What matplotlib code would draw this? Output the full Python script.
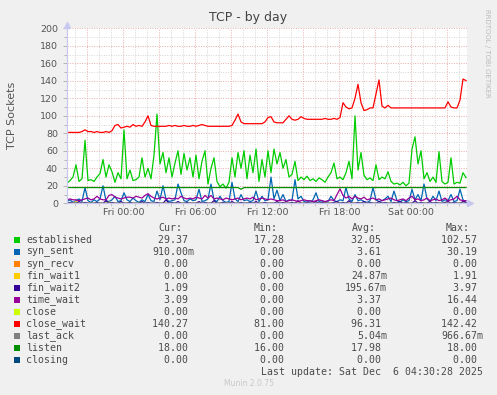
import numpy as np
import matplotlib
matplotlib.use("Agg")
import matplotlib.pyplot as plt
from matplotlib.patches import Rectangle
from matplotlib.ticker import MultipleLocator

W, H = 497, 395

# samples every 15 minutes, hours relative to Fri 00:00
hours = -4.69 + 0.25 * np.arange(134)

established = [
    23, 26, 30, 44, 25, 28, 72, 26, 27, 25,
    30, 34, 50, 30, 44, 36, 24, 35, 28, 84,
    28, 38, 26, 27, 30, 52, 30, 40, 28, 55,
    102, 45, 58, 35, 52, 30, 46, 60, 33, 57,
    38, 52, 30, 55, 28, 48, 60, 22, 40, 52,
    25, 19, 22, 17.3, 24, 52, 30, 58, 40, 60,
    28, 55, 35, 62, 25, 50, 30, 60, 35, 62,
    45, 58, 40, 50, 30, 33, 48, 26, 30, 27,
    31, 26, 28, 25, 29, 27, 24, 30, 35, 46,
    28, 30, 27, 35, 48, 28, 100, 38, 58, 32,
    27, 29, 26, 44, 27, 30, 28, 36, 25, 22,
    23, 21, 24, 20, 23, 62, 76, 45, 60, 28,
    35, 25, 30, 24, 59, 25, 22, 24, 52, 22,
    24, 23, 35, 29.37,
]

syn_sent = [
    2, 4, 1, 3, 5, 2, 18, 3, 1, 4,
    2, 5, 20, 3, 2, 4, 8, 2, 3, 12,
    4, 2, 6, 3, 1, 4, 2, 10, 3, 2,
    14, 4, 20, 5, 2, 3, 4, 22, 12, 3,
    2, 5, 3, 4, 16, 2, 3, 5, 22, 4,
    2, 8, 3, 1, 2, 24, 5, 2, 10, 3,
    4, 2, 3, 14, 2, 8, 3, 4, 30, 5,
    15, 3, 10, 2, 4, 3, 27, 5, 8, 2,
    3, 1, 4, 12, 2, 3, 1, 2, 8, 3,
    2, 4, 3, 18, 5, 2, 10, 3, 4, 2,
    1, 3, 18, 4, 2, 3, 5, 8, 2, 14,
    3, 1, 4, 2, 3, 16, 4, 10, 3, 22,
    5, 2, 8, 3, 14, 2, 4, 3, 10, 2,
    3, 16, 4, 0.91,
]

fin_wait1 = [0, 0, 0, 1.91, 0, 0, 0, 0, 0, 0, 0, 0, 0, 0, 1.4] + [0] * 119

fin_wait2 = [
    0, 1, 0, 0, 2, 0, 1, 0, 0, 0,
    1, 0, 0, 3, 0, 1, 0, 0, 2, 0,
    0, 1, 0, 0, 0, 2, 0, 1, 0, 0,
    1, 0, 0, 4, 0, 1, 0, 2, 0, 0,
    1, 0, 0, 0, 2, 0, 1, 0, 0, 3,
    0, 0, 1, 0, 0, 2, 0, 0, 1, 0,
    0, 1, 0, 2, 0, 0, 1, 0, 0, 0,
    2, 0, 1, 0, 0, 1, 0, 3, 0, 0,
    1, 0, 0, 2, 0, 1, 0, 0, 0, 1,
    2, 0, 1, 0, 3, 0, 0, 1, 0, 2,
    0, 1, 0, 0, 2, 0, 1, 0, 0, 1,
    0, 2, 0, 1, 0, 0, 3, 0, 1, 0,
    0, 2, 0, 1, 0, 0, 1, 2, 0, 1,
    0, 0, 2, 1.09,
]

time_wait = [
    4, 5, 4, 4, 3, 4, 5, 6, 4, 5,
    8, 5, 4, 4, 9, 10, 7, 6, 5, 6,
    7, 7, 6, 8, 7, 6, 9, 11, 8, 6,
    5, 6, 7, 5, 6, 5, 6, 5, 8, 6,
    5, 6, 5, 7, 6, 5, 9, 6, 9, 5,
    6, 5, 4, 6, 5, 4, 5, 6, 4, 5,
    6, 5, 7, 4, 5, 6, 5, 4, 5, 4,
    3, 3, 4, 2, 3, 4, 3, 2, 3, 4,
    3, 3, 2, 3, 4, 3, 2, 3, 4, 3,
    10, 16.44, 9, 6, 8, 5, 8, 6, 5, 7,
    4, 5, 6, 4, 5, 3, 4, 5, 6, 4,
    3, 4, 5, 3, 6, 8, 4, 5, 3, 4,
    6, 3, 4, 5, 3, 4, 6, 3, 4, 5,
    8, 4, 3, 3.09,
]

close_wait = [
    81, 81, 81, 81, 81, 82, 84, 82, 82, 81,
    82, 81, 81, 82, 81, 83, 89, 90, 86, 87,
    88, 87, 90, 88, 89, 88, 93, 100, 89, 88,
    88, 88, 88, 88, 89, 88, 89, 88, 88, 89,
    88, 88, 89, 88, 89, 90, 89, 88, 88, 88,
    88, 88, 88, 88, 88, 89, 95, 102, 93, 91,
    91, 91, 91, 91, 91, 91, 93, 98, 99, 93,
    92, 92, 92, 96, 100, 96, 95, 96, 99, 97,
    96, 96, 96, 96, 96, 96, 97, 96, 96, 97,
    96, 98, 115, 110, 108, 109, 120, 136, 115, 106,
    107, 109, 109, 125, 141, 111, 109, 112, 109, 109,
    109, 109, 109, 109, 109, 109, 109, 109, 109, 109,
    109, 109, 109, 109, 109, 109, 109, 116, 110, 109,
    109, 118, 142, 140.27,
]

last_ack = [0] * 60 + [0.67] + [0] * 73
listen = [18] * 58 + [16] + [18] * 75
zeros = [0] * 134

names = ["established", "syn_sent", "syn_recv", "fin_wait1", "fin_wait2",
         "time_wait", "close", "close_wait", "last_ack", "listen", "closing"]
colors = ["#00CC00", "#0066B3", "#FF8000", "#FFCC00", "#330099", "#990099",
          "#CCFF00", "#FF0000", "#808080", "#008F00", "#00487D"]
series = [established, syn_sent, zeros, fin_wait1, fin_wait2, time_wait,
          zeros, close_wait, last_ack, listen, zeros]

cur = ["29.37 ", "910.00m", "0.00 ", "0.00 ", "1.09 ", "3.09 ", "0.00 ",
       "140.27 ", "0.00 ", "18.00 ", "0.00 "]
mins = ["17.28 ", "0.00 ", "0.00 ", "0.00 ", "0.00 ", "0.00 ", "0.00 ",
        "81.00 ", "0.00 ", "16.00 ", "0.00 "]
avgs = ["32.05 ", "3.61 ", "0.00 ", "24.87m", "195.67m", "3.37 ", "0.00 ",
        "96.31 ", "5.04m", "17.98 ", "0.00 "]
maxs = ["102.57 ", "30.19 ", "0.00 ", "1.91 ", "3.97 ", "16.44 ", "0.00 ",
        "142.42 ", "966.67m", "18.00 ", "0.00 "]

x_labels = ["Fri 00:00", "Fri 06:00", "Fri 12:00", "Fri 18:00", "Sat 00:00"]
x_label_pos = [0, 6, 12, 18, 24]

fig = plt.figure(figsize=(W / 100, H / 100), dpi=100)
fig.patch.set_facecolor("#F0F0F0")


def fx(px):
    return px / W


def fy(py):
    return 1 - py / H


ax = fig.add_axes([fx(67), fy(203.3), 400 / W, 175 / H])
ax.set_facecolor("white")
for name, col, vals in zip(names, colors, series):
    ax.plot(hours, vals, color=col, lw=0.9, solid_joinstyle="round")

ax.set_xlim(-4.69, -4.69 + 400 / 12)
ax.set_ylim(0, 200)

ax.yaxis.set_major_locator(MultipleLocator(20))
ax.yaxis.set_minor_locator(MultipleLocator(10))
ax.xaxis.set_major_locator(MultipleLocator(3))
ax.xaxis.set_minor_locator(MultipleLocator(1))
ax.xaxis.set_major_formatter(plt.NullFormatter())

ax.set_axisbelow(True)
ax.grid(which="minor", color="#d4d4d4", ls=(0, (1, 1.5)), lw=0.7)
ax.grid(which="major", color="#e8acac", ls=(0, (1, 1.5)), lw=0.7)

for lbl, pos in zip(x_labels, x_label_pos):
    ax.text(pos, -5, lbl, ha="center", va="top", fontsize=6.8, color="#555555")

ax.tick_params(axis="y", labelsize=6.8, labelcolor="#555555", color="#aaaaaa",
               length=3, width=0.6)
ax.tick_params(axis="y", which="minor", length=2, color="#aaaaaa")
ax.tick_params(axis="x", which="both", length=2, color="#bbbbbb", width=0.6)

for s in ["top", "right"]:
    ax.spines[s].set_visible(False)
for s in ["left", "bottom"]:
    ax.spines[s].set_color("#c8c8f0")
    ax.spines[s].set_linewidth(0.9)
ax.plot([-4.69], [203.5], marker="^", color="#c8c8f0", ms=4, clip_on=False)
ax.plot([-4.69 + 403 / 12], [0], marker=">", color="#c8c8f0", ms=4, clip_on=False)

fig.text(0.5, fy(18), "TCP - by day", ha="center", va="center",
         fontsize=9, color="#444444")
fig.text(fx(12), fy(115), "TCP Sockets", rotation=90, ha="center",
         va="center", fontsize=8, color="#555555")
fig.text(fx(487), fy(53), "RRDTOOL / TOBI OETIKER", rotation=270,
         ha="center", va="center", fontsize=5, color="#bbbbbb")

mono = "DejaVu Sans Mono"
tcol = "#4a4a4a"
fs = 7.1
hdr_y = 228
for txt, xr in zip(["Cur:", "Min:", "Avg:", "Max:"], [182, 278, 376, 470]):
    fig.text(fx(xr), fy(hdr_y), txt, ha="right", va="center", family=mono,
             fontsize=fs, color=tcol)

for i, name in enumerate(names):
    yy = 239.6 + i * 12.05
    fig.add_artist(Rectangle((fx(14), fy(yy + 3)), 6 / W, 6 / H,
                             transform=fig.transFigure, color=colors[i], lw=0))
    fig.text(fx(26), fy(yy), name, ha="left", va="center", family=mono,
             fontsize=fs, color=tcol)
    for col, xr in zip([cur, mins, avgs, maxs], [194, 290, 387, 483]):
        fig.text(fx(xr), fy(yy), col[i], ha="right", va="center", family=mono,
                 fontsize=fs, color=tcol)

fig.text(fx(483), fy(371.7), "Last update: Sat Dec  6 04:30:28 2025",
         ha="right", va="center", family=mono, fontsize=fs, color=tcol)
fig.text(0.5, fy(384), "Munin 2.0.75", ha="center", va="center",
         fontsize=5.5, color="#c8c8c8")

fig.savefig("out.png", dpi=100, facecolor=fig.get_facecolor())
